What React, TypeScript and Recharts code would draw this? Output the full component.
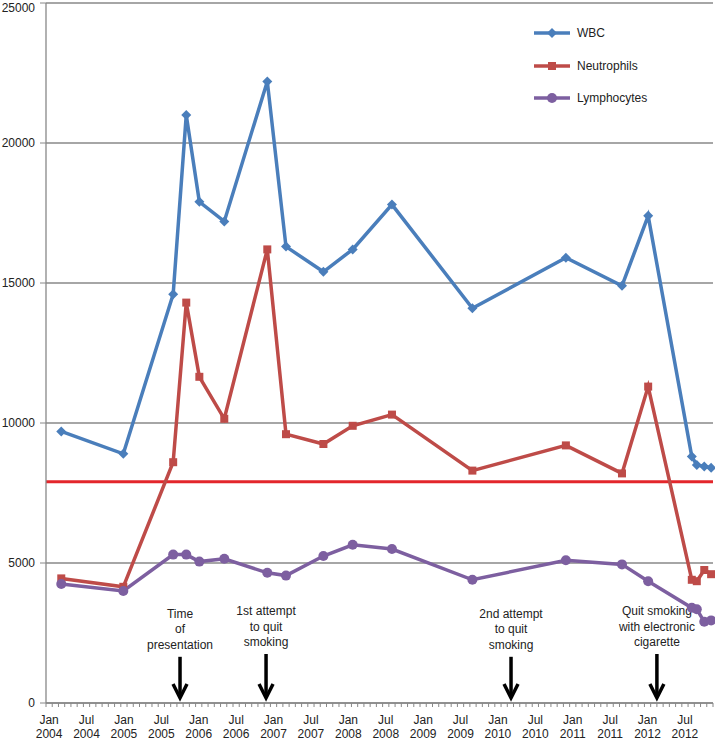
import { CartesianGrid, Legend, Line, LineChart, ReferenceLine, XAxis, YAxis } from "recharts";

// months since Jan 2004 (position of each blood count)
const months = [2.45, 12.4, 20.4, 22.5, 24.6, 28.6, 35.5, 38.5, 44.5, 49.2, 55.5, 68.4, 83.4, 92.4, 96.6, 103.6, 104.4, 105.6, 106.7];
const wbc = [9700, 8900, 14600, 21000, 17900, 17200, 22200, 16300, 15400, 16200, 17800, 14100, 15900, 14900, 17400, 8800, 8500, 8450, 8400];
const neutrophils = [4450, 4150, 8600, 14300, 11650, 10150, 16200, 9600, 9250, 9900, 10300, 8300, 9200, 8200, 11300, 4400, 4350, 4750, 4600];
const lymphocytes = [4250, 4000, 5300, 5300, 5050, 5150, 4650, 4550, 5250, 5650, 5500, 4400, 5100, 4950, 4350, 3400, 3350, 2900, 2950];

const threshold = 7900;
const yTicks = [0, 5000, 10000, 15000, 20000, 25000];
const SPAN = 107; // Jan 2004 .. Nov 2012, one slot per month
const monthTicks = Array.from({ length: SPAN + 1 }, (_, i) => i);

const annotations = [
  { at: 21.5, from: 1650, lines: ["Time", "of", "presentation"] },
  { at: 35.3, from: 1750, lines: ["1st attempt", "to quit", "smoking"] },
  { at: 74.6, from: 1650, lines: ["2nd attempt", "to quit", "smoking"] },
  { at: 98.0, from: 1750, lines: ["Quit smoking", "with electronic", "cigarette"] },
];

const series = [
  { key: "wbc", name: "WBC", color: "#4A7EBB", marker: "diamond" },
  { key: "neutrophils", name: "Neutrophils", color: "#BE4B48", marker: "square" },
  { key: "lymphocytes", name: "Lymphocytes", color: "#7D5FA0", marker: "circle" },
];

const data = months.map((m, i) => ({
  m,
  wbc: wbc[i],
  neutrophils: neutrophils[i],
  lymphocytes: lymphocytes[i],
}));

const W = 715;
const H = 741;
const LEFT = 46;
const RIGHT = 2;
const HALF_SLOT = (W - LEFT - RIGHT) / SPAN / 2;
const GRAY = "#888888";
const TEXT = "#222222";

function Marker({ kind, cx, cy, color }: { kind: string; cx: number; cy: number; color: string }) {
  if (kind === "diamond") {
    return <path d={`M${cx},${cy - 5}L${cx + 5},${cy}L${cx},${cy + 5}L${cx - 5},${cy}Z`} fill={color} />;
  }
  if (kind === "square") {
    return <rect x={cx - 4} y={cy - 4} width={8} height={8} fill={color} />;
  }
  return <circle cx={cx} cy={cy} r={5} fill={color} />;
}

function dotFor(kind: string, color: string) {
  return (props: any) => (
    <g key={`${kind}-${props.index}`}>
      <Marker kind={kind} cx={props.cx} cy={props.cy} color={color} />
    </g>
  );
}

function MonthTick(props: any) {
  const v = props.payload.value;
  if (v % 6 !== 0 || v >= SPAN) return <g />;
  const x = props.x + HALF_SLOT;
  const label = v % 12 === 0 ? "Jan" : "Jul";
  const year = 2004 + Math.floor(v / 12);
  return (
    <text x={x} y={props.y} textAnchor="middle" fontSize={12} fill={TEXT}>
      <tspan x={x} dy={15}>{label}</tspan>
      <tspan x={x} dy={14}>{year}</tspan>
    </text>
  );
}

function ArrowNote(props: any) {
  const { x1, y1, y2, lines } = props;
  return (
    <g>
      {lines.map((t: string, i: number) => (
        <text key={t + i} x={x1} y={y1 - 39 + i * 15.5} textAnchor="middle" fontSize={12} fill={TEXT}>
          {t}
        </text>
      ))}
      <line x1={x1} y1={y1} x2={x1} y2={y2 - 2} stroke="#000" strokeWidth={3.5} />
      <polyline
        points={`${x1 - 7},${y2 - 14} ${x1},${y2} ${x1 + 7},${y2 - 14}`}
        fill="none"
        stroke="#000"
        strokeWidth={3.5}
      />
    </g>
  );
}

function LegendBox() {
  return (
    <div>
      {series.map((s) => (
        <div key={s.key} style={{ display: "flex", alignItems: "center", height: 32.5 }}>
          <svg width={38} height={12}>
            <line x1={0} y1={6} x2={36} y2={6} stroke={s.color} strokeWidth={3.5} />
            <Marker kind={s.marker} cx={18} cy={6} color={s.color} />
          </svg>
          <span style={{ fontSize: 12, color: TEXT, marginLeft: 5 }}>{s.name}</span>
        </div>
      ))}
    </div>
  );
}

export default function App() {
  return (
    <div style={{ position: "absolute", left: 0, top: 0, fontFamily: "'Liberation Sans', Arial, sans-serif", background: "#fff" }}>
      <LineChart width={W} height={H} data={data} margin={{ top: 3, right: RIGHT, left: 0, bottom: 0 }}>
        <CartesianGrid vertical={false} stroke={GRAY} strokeWidth={1.3} />
        <XAxis
          dataKey="m"
          type="number"
          domain={[0, SPAN]}
          ticks={monthTicks}
          interval={0}
          height={38}
          tickSize={4}
          tickMargin={2}
          axisLine={{ stroke: GRAY, strokeWidth: 1.3 }}
          tickLine={{ stroke: GRAY }}
          tick={<MonthTick />}
        />
        <YAxis
          domain={[0, 25000]}
          ticks={yTicks}
          width={LEFT}
          tickSize={6}
          tickMargin={5}
          axisLine={{ stroke: GRAY, strokeWidth: 1.3 }}
          tickLine={{ stroke: GRAY }}
          tick={{ fontSize: 12, fill: TEXT }}
        />
        <ReferenceLine y={threshold} stroke="#E3262B" strokeWidth={3} />
        {annotations.map((a) => (
          <ReferenceLine
            key={a.at}
            segment={[
              { x: a.at, y: a.from },
              { x: a.at, y: 180 },
            ]}
            shape={(p: any) => <ArrowNote {...p} lines={a.lines} />}
          />
        ))}
        {series.map((s) => (
          <Line
            key={s.key}
            type="linear"
            dataKey={s.key}
            name={s.name}
            stroke={s.color}
            strokeWidth={3.5}
            dot={dotFor(s.marker, s.color)}
            activeDot={false}
            isAnimationActive={false}
          />
        ))}
        <Legend
          layout="vertical"
          align="center"
          verticalAlign="middle"
          wrapperStyle={{ left: 534, top: 17, width: 170 }}
          content={<LegendBox />}
        />
      </LineChart>
    </div>
  );
}
